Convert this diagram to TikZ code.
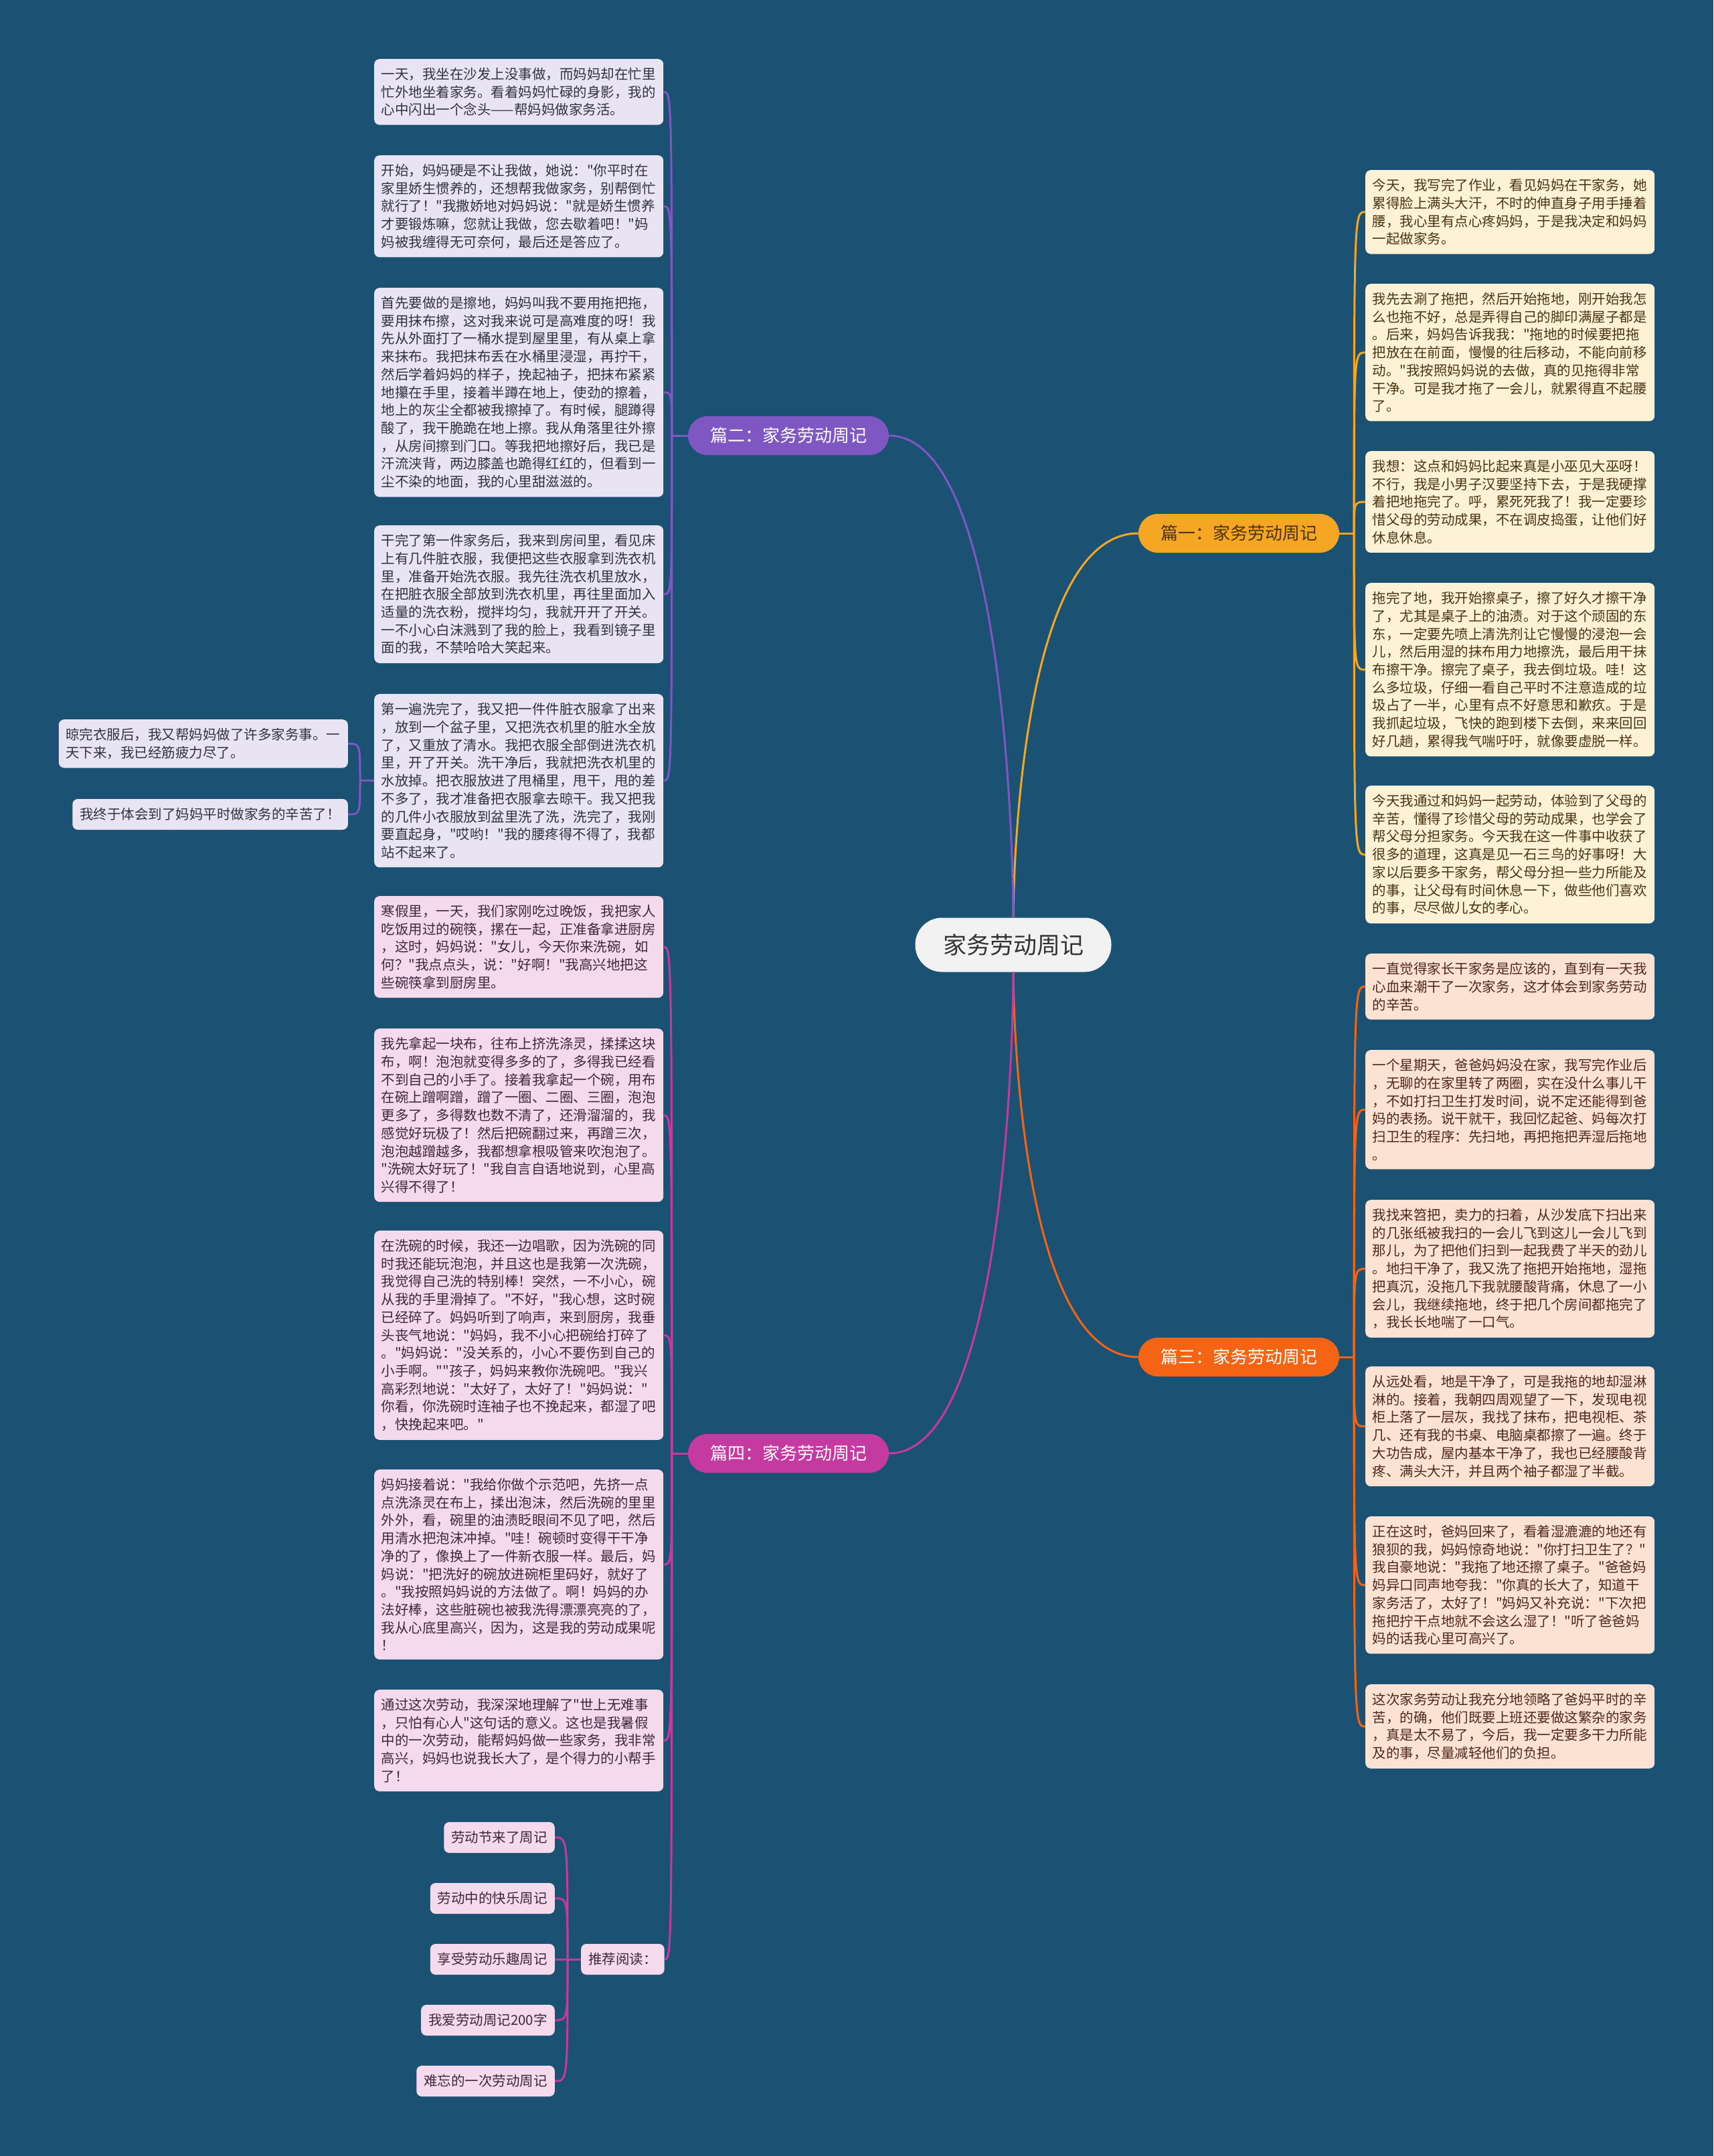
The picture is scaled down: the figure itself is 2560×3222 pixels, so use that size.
\documentclass[tikz,border=0pt]{standalone}
\usepackage{fontspec}
\setmainfont{Noto Sans CJK SC}[Ligatures=TeXOff]
\usetikzlibrary{calc}

\definecolor{mapBg}{RGB}{27,81,115}
\definecolor{oneCol}{RGB}{245,166,35}
\definecolor{twoCol}{RGB}{126,87,194}
\definecolor{threeCol}{RGB}{245,100,20}
\definecolor{fourCol}{RGB}{196,58,160}
\definecolor{oneFill}{RGB}{253,241,214}
\definecolor{twoFill}{RGB}{232,228,244}
\definecolor{threeFill}{RGB}{252,226,211}
\definecolor{fourFill}{RGB}{245,218,238}
\definecolor{oneText}{RGB}{74,52,18}
\definecolor{twoText}{RGB}{50,50,62}
\definecolor{threeText}{RGB}{80,40,25}
\definecolor{fourText}{RGB}{62,40,62}
\definecolor{rootFill}{RGB}{242,242,242}
\definecolor{rootText}{RGB}{51,51,51}

\begin{document}
\begin{tikzpicture}[
  x=1pt, y=-1pt,
  every node/.style={font=\fontsize{20.5}{26.7}\selectfont},
  link/.style={line width=3pt},
  elbow/.style={to path={.. controls (\tikztostart |- \tikztotarget)
      and (\tikztostart |- \tikztotarget) .. (\tikztotarget)}},
  trunk/.style={to path={.. controls (\tikztotarget |- \tikztostart)
      and (\tikztotarget) .. (\tikztotarget)}},
  note/.style={rounded corners=8pt, text width=411pt, align=left,
    inner xsep=10.5pt, inner ysep=13pt},
  tip/.style={rounded corners=8pt, inner xsep=11pt, minimum height=46pt},
  pill/.style={rounded corners=29pt, minimum width=300pt, minimum height=58pt,
    inner sep=0pt, font=\fontsize{26}{30}\selectfont},
]

\fill[mapBg] (0,0) rectangle (2560,3222);
\useasboundingbox (0,0) rectangle (2560,3222);

%% ---- Root ----
\node[fill=rootFill, text=rootText, rounded corners=40pt, minimum width=293pt,
  minimum height=81pt, inner sep=0pt, font=\fontsize{35}{40}\selectfont]
  (root) at (1514,1412) {家务劳动周记};

%% ---- Branch labels ----
\node[pill, fill=oneCol, text=oneText] (p1) at (1851,797) {篇一：家务劳动周记};
\node[pill, fill=twoCol, text=white] (p2) at (1178,651) {篇二：家务劳动周记};
\node[pill, fill=threeCol, text=white] (p3) at (1851,2028) {篇三：家务劳动周记};
\node[pill, fill=fourCol, text=white] (p4) at (1178,2172) {篇四：家务劳动周记};

\draw[link, oneCol] (p1.west) to[trunk] (root.north);
\draw[link, twoCol] (p2.east) to[trunk] (root.north);
\draw[link, threeCol] (p3.west) to[trunk] (root.south);
\draw[link, fourCol] (p4.east) to[trunk] (root.south);

%% ---- 篇一 ----
\tikzset{onebox/.style={note, anchor=north west, fill=oneFill, text=oneText}}
\node[onebox] (r1) at (2040,254) {今天，我写完了作业，看见妈妈在干家务，她\\
累得脸上满头大汗，不时的伸直身子用手捶着\\
腰，我心里有点心疼妈妈，于是我决定和妈妈\\
一起做家务。};
\node[onebox] (r2) at (2040,424) {我先去涮了拖把，然后开始拖地，刚开始我怎\\
么也拖不好，总是弄得自己的脚印满屋子都是\\
。后来，妈妈告诉我我："拖地的时候要把拖\\
把放在在前面，慢慢的往后移动，不能向前移\\
动。"我按照妈妈说的去做，真的见拖得非常\\
干净。可是我才拖了一会儿，就累得直不起腰\\
了。};
\node[onebox] (r3) at (2040,674) {我想：这点和妈妈比起来真是小巫见大巫呀！\\
不行，我是小男子汉要坚持下去，于是我硬撑\\
着把地拖完了。呼，累死死我了！我一定要珍\\
惜父母的劳动成果，不在调皮捣蛋，让他们好\\
休息休息。};
\node[onebox] (r4) at (2040,871) {拖完了地，我开始擦桌子，擦了好久才擦干净\\
了，尤其是桌子上的油渍。对于这个顽固的东\\
东，一定要先喷上清洗剂让它慢慢的浸泡一会\\
儿，然后用湿的抹布用力地擦洗，最后用干抹\\
布擦干净。擦完了桌子，我去倒垃圾。哇！这\\
么多垃圾，仔细一看自己平时不注意造成的垃\\
圾占了一半，心里有点不好意思和歉疚。于是\\
我抓起垃圾，飞快的跑到楼下去倒，来来回回\\
好几趟，累得我气喘吁吁，就像要虚脱一样。};
\node[onebox] (r5) at (2040,1174) {今天我通过和妈妈一起劳动，体验到了父母的\\
辛苦，懂得了珍惜父母的劳动成果，也学会了\\
帮父母分担家务。今天我在这一件事中收获了\\
很多的道理，这真是见一石三鸟的好事呀！大\\
家以后要多干家务，帮父母分担一些力所能及\\
的事，让父母有时间休息一下，做些他们喜欢\\
的事，尽尽做儿女的孝心。};

\coordinate (j1) at ($(p1.east)+(22,0)$);
\draw[link, oneCol] (p1.east) -- (j1);
\foreach \n in {r1,r2,r3,r4,r5}
  \draw[link, oneCol] (j1) to[elbow] (\n.west);

%% ---- 篇二 ----
\tikzset{twobox/.style={note, fill=twoFill, text=twoText}}
\node[twobox, anchor=north west] (l1) at (559,88) {一天，我坐在沙发上没事做，而妈妈却在忙里\\
忙外地坐着家务。看着妈妈忙碌的身影，我的\\
心中闪出一个念头——帮妈妈做家务活。};
\node[twobox, anchor=north west] (l2) at (559,232) {开始，妈妈硬是不让我做，她说："你平时在\\
家里娇生惯养的，还想帮我做家务，别帮倒忙\\
就行了！"我撒娇地对妈妈说："就是娇生惯养\\
才要锻炼嘛，您就让我做，您去歇着吧！"妈\\
妈被我缠得无可奈何，最后还是答应了。};
\node[twobox, anchor=north west] (l3) at (559,430) {首先要做的是擦地，妈妈叫我不要用拖把拖，\\
要用抹布擦，这对我来说可是高难度的呀！我\\
先从外面打了一桶水提到屋里里，有从桌上拿\\
来抹布。我把抹布丢在水桶里浸湿，再拧干，\\
然后学着妈妈的样子，挽起袖子，把抹布紧紧\\
地攥在手里，接着半蹲在地上，使劲的擦着，\\
地上的灰尘全都被我擦掉了。有时候，腿蹲得\\
酸了，我干脆跪在地上擦。我从角落里往外擦\\
，从房间擦到门口。等我把地擦好后，我已是\\
汗流浃背，两边膝盖也跪得红红的，但看到一\\
尘不染的地面，我的心里甜滋滋的。};
\node[twobox, anchor=north west] (l4) at (559,785) {干完了第一件家务后，我来到房间里，看见床\\
上有几件脏衣服，我便把这些衣服拿到洗衣机\\
里，准备开始洗衣服。我先往洗衣机里放水，\\
在把脏衣服全部放到洗衣机里，再往里面加入\\
适量的洗衣粉，搅拌均匀，我就开开了开关。\\
一不小心白沫溅到了我的脸上，我看到镜子里\\
面的我，不禁哈哈大笑起来。};
\node[twobox, anchor=north west] (l5) at (559,1037) {第一遍洗完了，我又把一件件脏衣服拿了出来\\
，放到一个盆子里，又把洗衣机里的脏水全放\\
了，又重放了清水。我把衣服全部倒进洗衣机\\
里，开了开关。洗干净后，我就把洗衣机里的\\
水放掉。把衣服放进了甩桶里，甩干，甩的差\\
不多了，我才准备把衣服拿去晾干。我又把我\\
的几件小衣服放到盆里洗了洗，洗完了，我刚\\
要直起身，"哎哟！"我的腰疼得不得了，我都\\
站不起来了。};
\node[twobox, anchor=north east] (s1) at (520,1075) {晾完衣服后，我又帮妈妈做了许多家务事。一\\
天下来，我已经筋疲力尽了。};
\node[tip, fill=twoFill, text=twoText, anchor=east] (s2) at (520,1217)
  {我终于体会到了妈妈平时做家务的辛苦了！};

\coordinate (j2) at ($(p2.west)+(-24,0)$);
\draw[link, twoCol] (p2.west) -- (j2);
\foreach \n in {l1,l2,l3,l4,l5}
  \draw[link, twoCol] (j2) to[elbow] (\n.east);

\coordinate (j5) at ($(l5.west)+(-21,0)$);
\draw[link, twoCol] (l5.west) -- (j5);
\draw[link, twoCol] (j5) to[elbow] (s1.east);
\draw[link, twoCol] (j5) to[elbow] (s2.east);

%% ---- 篇三 ----
\tikzset{threebox/.style={note, anchor=north west, fill=threeFill, text=threeText}}
\node[threebox] (t1) at (2040,1425) {一直觉得家长干家务是应该的，直到有一天我\\
心血来潮干了一次家务，这才体会到家务劳动\\
的辛苦。};
\node[threebox] (t2) at (2040,1569) {一个星期天，爸爸妈妈没在家，我写完作业后\\
，无聊的在家里转了两圈，实在没什么事儿干\\
，不如打扫卫生打发时间，说不定还能得到爸\\
妈的表扬。说干就干，我回忆起爸、妈每次打\\
扫卫生的程序：先扫地，再把拖把弄湿后拖地\\
。};
\node[threebox] (t3) at (2040,1793) {我找来笤把，卖力的扫着，从沙发底下扫出来\\
的几张纸被我扫的一会儿飞到这儿一会儿飞到\\
那儿，为了把他们扫到一起我费了半天的劲儿\\
。地扫干净了，我又洗了拖把开始拖地，湿拖\\
把真沉，没拖几下我就腰酸背痛，休息了一小\\
会儿，我继续拖地，终于把几个房间都拖完了\\
，我长长地喘了一口气。};
\node[threebox] (t4) at (2040,2042) {从远处看，地是干净了，可是我拖的地却湿淋\\
淋的。接着，我朝四周观望了一下，发现电视\\
柜上落了一层灰，我找了抹布，把电视柜、茶\\
几、还有我的书桌、电脑桌都擦了一遍。终于\\
大功告成，屋内基本干净了，我也已经腰酸背\\
疼、满头大汗，并且两个袖子都湿了半截。};
\node[threebox] (t5) at (2040,2266) {正在这时，爸妈回来了，看着湿漉漉的地还有\\
狼狈的我，妈妈惊奇地说："你打扫卫生了？"\\
我自豪地说："我拖了地还擦了桌子。"爸爸妈\\
妈异口同声地夸我："你真的长大了，知道干\\
家务活了，太好了！"妈妈又补充说："下次把\\
拖把拧干点地就不会这么湿了！"听了爸爸妈\\
妈的话我心里可高兴了。};
\node[threebox] (t6) at (2040,2517) {这次家务劳动让我充分地领略了爸妈平时的辛\\
苦，的确，他们既要上班还要做这繁杂的家务\\
，真是太不易了，今后，我一定要多干力所能\\
及的事，尽量减轻他们的负担。};

\coordinate (j3) at ($(p3.east)+(22,0)$);
\draw[link, threeCol] (p3.east) -- (j3);
\foreach \n in {t1,t2,t3,t4,t5,t6}
  \draw[link, threeCol] (j3) to[elbow] (\n.west);

%% ---- 篇四 ----
\tikzset{fourbox/.style={note, anchor=north west, fill=fourFill, text=fourText}}
\node[fourbox] (q1) at (559,1339) {寒假里，一天，我们家刚吃过晚饭，我把家人\\
吃饭用过的碗筷，摞在一起，正准备拿进厨房\\
，这时，妈妈说："女儿，今天你来洗碗，如\\
何？"我点点头，说："好啊！"我高兴地把这\\
些碗筷拿到厨房里。};
\node[fourbox] (q2) at (559,1537) {我先拿起一块布，往布上挤洗涤灵，揉揉这块\\
布，啊！泡泡就变得多多的了，多得我已经看\\
不到自己的小手了。接着我拿起一个碗，用布\\
在碗上蹭啊蹭，蹭了一圈、二圈、三圈，泡泡\\
更多了，多得数也数不清了，还滑溜溜的，我\\
感觉好玩极了！然后把碗翻过来，再蹭三次，\\
泡泡越蹭越多，我都想拿根吸管来吹泡泡了。\\
"洗碗太好玩了！"我自言自语地说到，心里高\\
兴得不得了！};
\node[fourbox] (q3) at (559,1839) {在洗碗的时候，我还一边唱歌，因为洗碗的同\\
时我还能玩泡泡，并且这也是我第一次洗碗，\\
我觉得自己洗的特别棒！突然，一不小心，碗\\
从我的手里滑掉了。"不好，"我心想，这时碗\\
已经碎了。妈妈听到了响声，来到厨房，我垂\\
头丧气地说："妈妈，我不小心把碗给打碎了\\
。"妈妈说："没关系的，小心不要伤到自己的\\
小手啊。""孩子，妈妈来教你洗碗吧。"我兴\\
高彩烈地说："太好了，太好了！"妈妈说："\\
你看，你洗碗时连袖子也不挽起来，都湿了吧\\
，快挽起来吧。"};
\node[fourbox] (q4) at (559,2196) {妈妈接着说："我给你做个示范吧，先挤一点\\
点洗涤灵在布上，揉出泡沫，然后洗碗的里里\\
外外，看，碗里的油渍眨眼间不见了吧，然后\\
用清水把泡沫冲掉。"哇！碗顿时变得干干净\\
净的了，像换上了一件新衣服一样。最后，妈\\
妈说："把洗好的碗放进碗柜里码好，就好了\\
。"我按照妈妈说的方法做了。啊！妈妈的办\\
法好棒，这些脏碗也被我洗得漂漂亮亮的了，\\
我从心底里高兴，因为，这是我的劳动成果呢\\
！};
\node[fourbox] (q5) at (559,2525) {通过这次劳动，我深深地理解了"世上无难事\\
，只怕有心人"这句话的意义。这也是我暑假\\
中的一次劳动，能帮妈妈做一些家务，我非常\\
高兴，妈妈也说我长大了，是个得力的小帮手\\
了！};
\node[tip, fill=fourFill, text=fourText, anchor=west] (rec) at (868,2928) {推荐阅读：};

\coordinate (j4) at ($(p4.west)+(-24,0)$);
\draw[link, fourCol] (p4.west) -- (j4);
\foreach \n in {q1,q2,q3,q4,q5,rec}
  \draw[link, fourCol] (j4) to[elbow] (\n.east);

%% ---- 推荐阅读 ----
\tikzset{readbox/.style={tip, anchor=east, fill=fourFill, text=fourText}}
\node[readbox] (rec1) at (829,2746) {劳动节来了周记};
\node[readbox] (rec2) at (829,2837) {劳动中的快乐周记};
\node[readbox] (rec3) at (829,2928) {享受劳动乐趣周记};
\node[readbox] (rec4) at (829,3019) {我爱劳动周记200字};
\node[readbox] (rec5) at (829,3110) {难忘的一次劳动周记};

\coordinate (j6) at ($(rec.west)+(-20,0)$);
\draw[link, fourCol] (rec.west) -- (j6);
\foreach \n in {rec1,rec2,rec3,rec4,rec5}
  \draw[link, fourCol] (j6) to[elbow] (\n.east);

\end{tikzpicture}
\end{document}
